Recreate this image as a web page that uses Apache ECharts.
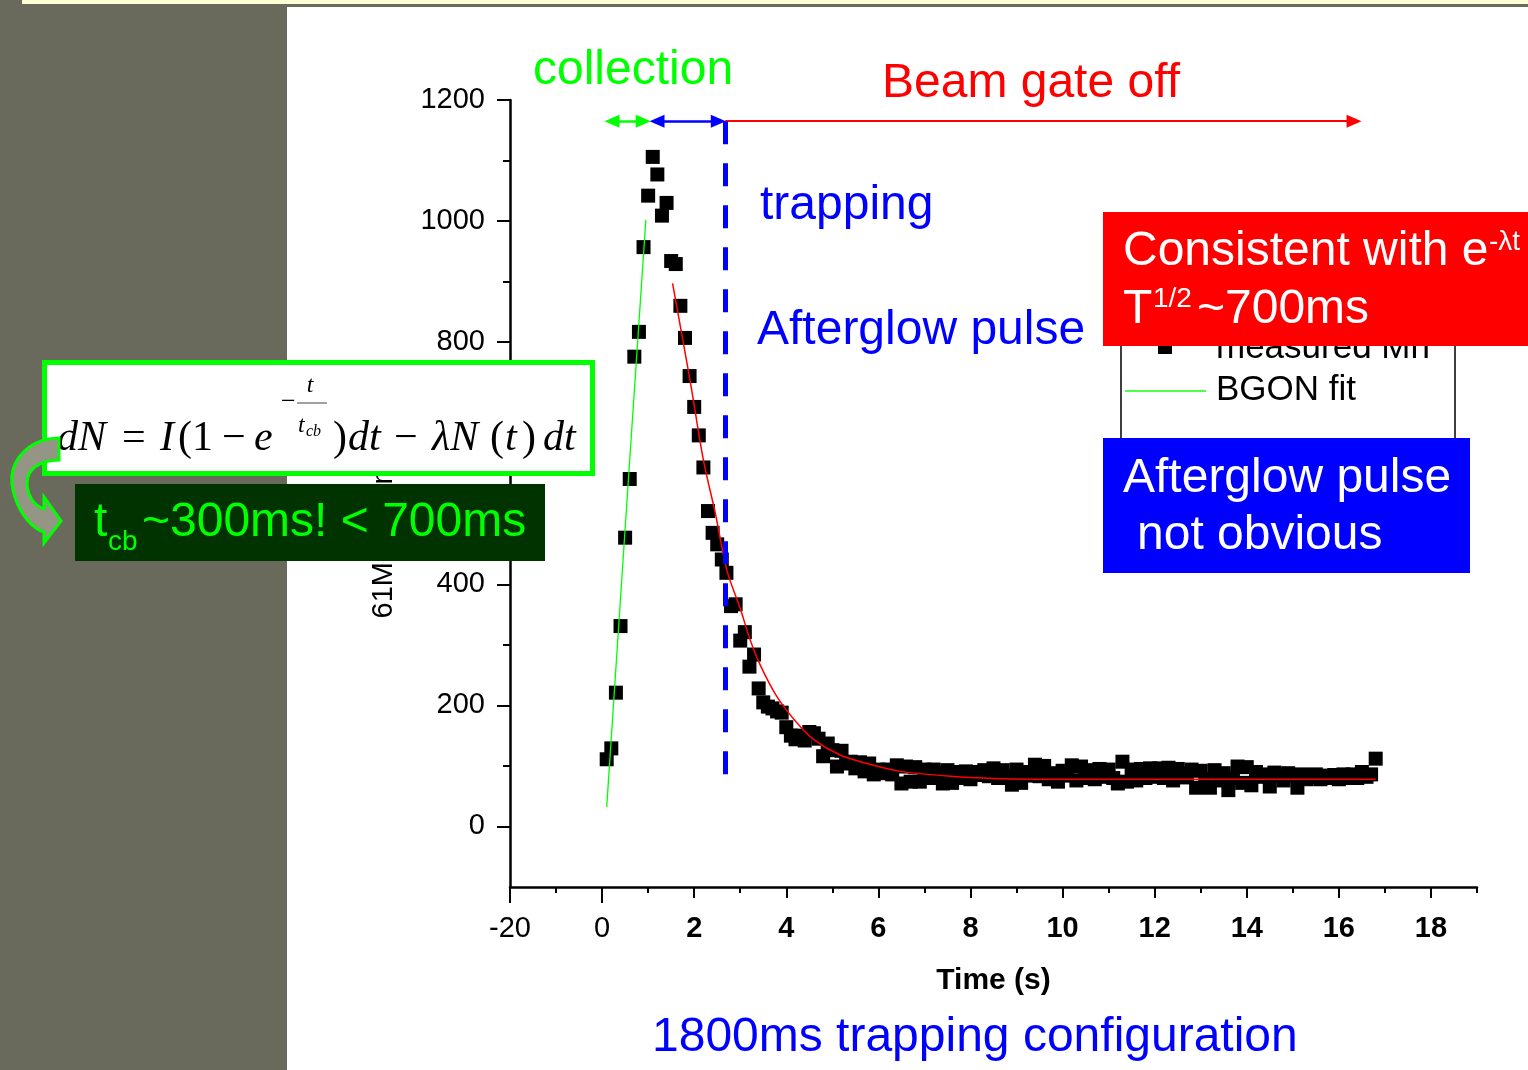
<!DOCTYPE html>
<html><head><meta charset="utf-8">
<script src="https://cdn.jsdelivr.net/npm/echarts@6/dist/echarts.min.js"></script>
<style>html,body{margin:0;padding:0;background:#fff;}#c{width:1528px;height:1070px;}</style>
</head><body><div id="c"></div>
<script>
// ---------------- data ----------------
const measuredTime = [
 0.1,0.2,0.3,0.4,0.5,0.6,0.7,0.8,0.9,1.0,
 1.1,1.2,1.3,1.4,1.5,1.6,1.7,1.8,1.9,2.0,
 2.1,2.2,2.3,2.4,2.5,2.6,2.7,2.8,2.9,3.0,
 3.1,3.2,3.3,3.4,3.5,3.6,3.7,3.8,3.9,4.0,
 4.1,4.2,4.3,4.4,4.5,4.6,4.7,4.8,4.9,5.0,
 5.1,5.2,5.3,5.4,5.5,5.6,5.7,5.8,5.9,6.0,
 6.1,6.2,6.3,6.4,6.5,6.6,6.7,6.8,6.9,7.0,
 7.1,7.2,7.3,7.4,7.5,7.6,7.7,7.8,7.9,8.0,
 8.1,8.2,8.3,8.4,8.5,8.6,8.7,8.8,8.9,9.0,
 9.1,9.2,9.3,9.4,9.5,9.6,9.7,9.8,9.9,10.0,
 10.1,10.2,10.3,10.4,10.5,10.6,10.7,10.8,10.9,11.0,
 11.1,11.2,11.3,11.4,11.5,11.6,11.7,11.8,11.9,12.0,
 12.1,12.2,12.3,12.4,12.5,12.6,12.7,12.8,12.9,13.0,
 13.1,13.2,13.3,13.4,13.5,13.6,13.7,13.8,13.9,14.0,
 14.1,14.2,14.3,14.4,14.5,14.6,14.7,14.8,14.9,15.0,
 15.1,15.2,15.3,15.4,15.5,15.6,15.7,15.8,15.9,16.0,
 16.1,16.2,16.3,16.4,16.5,16.6,16.7,16.8
];
const measuredCounts = [
 111,129,221,331,477,574,776,817,957,1042,
 1106,1077,1009,1030,934,929,860,807,744,693,
 646,593,521,485,466,441,419,364,367,307,
 321,264,284,228,205,198,195,190,188,164,
 150,144,150,142,156,154,145,116,137,126,
 99,125,104,107,96,106,91,104,86,94,
 88,94,86,101,71,99,74,98,74,94,
 80,94,88,71,93,72,90,80,91,78,
 90,85,93,83,96,80,93,83,69,94,
 72,90,84,102,83,100,78,88,74,92,
 84,101,76,99,80,93,78,95,82,94,
 80,71,107,74,94,76,95,80,96,82,
 96,80,97,76,95,88,81,94,64,92,
 78,64,93,76,88,60,80,99,72,98,
 68,90,82,86,66,89,84,76,88,84,
 64,86,78,82,86,78,84,80,85,78,
 86,80,86,80,90,82,86,112
];
const bgonFitTime   = [0.10, 0.57, 0.95];
const bgonFitCounts = [32, 572, 1002];
const decayFitTime   = [1.53, 1.91, 2.20, 2.46, 2.71, 3.00, 3.22, 3.45, 3.80, 4.22, 4.59, 5.17, 5.75, 6.48, 7.57, 8.65, 10.8, 16.8];
const decayFitCounts = [897, 737, 605, 517, 423, 360, 307, 264, 214, 172, 144, 118, 104, 91, 83, 79, 78, 78];

const xLabelValues = [-2,0,2,4,6,8,10,12,14,16,18];
const xTickLabels  = ['-20','0','2','4','6','8','10','12','14','16','18'];
const xMinorTicks  = [-1,1,3,5,7,9,11,13,15,17,19];
const yLabelValues = [0,200,400,600,800,1000,1200];
const yTickLabels  = ['0','200','400','600','800','1000','1200'];
const yMinorTicks  = [100,300,500,700,900,1100];

// phase annotation (time s, counts)
const phaseEdges = [0.065, 1.043, 2.674, 16.48]; // collection start, trapping start, gate off, arrow end
const arrowLevel = 1165;
const dashBottom = 84;

// ---------------- chart ----------------
const FONT = '"Liberation Sans", Arial, sans-serif';
const SERIF = '"Liberation Serif", "Times New Roman", serif';
const pairs = (xs, ys) => xs.map((x, i) => [x, ys[i]]);
const halfHead = 0.15;
const BIG = 48;

const chart = echarts.init(document.getElementById('c'), null, {renderer: 'canvas', width: 1528, height: 1070});

const tickStyle = {color: '#000', width: 2};
const hiddenAxisBase = {
  type: 'value', splitLine: {show: false}, axisLabel: {show: false},
  axisLine: {show: false, onZero: false}
};

function txt(x, y, text, size, color, opts) {
  opts = opts || {};
  return {
    type: 'text', x: x, y: y, z: opts.z || 120, silent: true,
    style: {
      text: text, fill: color,
      font: (opts.italic ? 'italic ' : '') + (opts.bold ? 'bold ' : '') + size + 'px ' + (opts.family || FONT),
      textAlign: opts.align || 'left', textVerticalAlign: 'middle'
    }
  };
}
const mid = (baseline, size, serif) => baseline - (serif ? 0.3375 : 0.3465) * size;

// curved arrow outline (decoration): sample cubic Bezier segments into a polygon
function bez(p0, p1, p2, p3, n) {
  const out = [];
  for (let i = 1; i <= n; i++) {
    const t = i / n, u = 1 - t;
    out.push([u*u*u*p0[0] + 3*u*u*t*p1[0] + 3*u*t*t*p2[0] + t*t*t*p3[0],
              u*u*u*p0[1] + 3*u*u*t*p1[1] + 3*u*t*t*p2[1] + t*t*t*p3[1]]);
  }
  return out;
}
const arrowPts = [[59, 438]]
  .concat(bez([59,438],[30,438],[9,460],[12,484], 10))
  .concat(bez([12,484],[15,508],[30,528],[44,532], 10))
  .concat([[44,543],[61,521],[44,497],[44,509]])
  .concat(bez([44,509],[34,506],[27,495],[27,483], 8))
  .concat(bez([27,483],[27,469],[40,460],[59,460], 8));

const eqPieces = [
  ['dN', 57, true], ['=', 122, false], ['I', 160, true], ['(1', 178, false], ['\u2212', 222, false],
  ['e', 254, true], [')', 333, false], ['dt', 348, true], ['\u2212', 394, false], ['\u03bbN', 432, true],
  ['(', 490, false], ['t', 505, true], [')', 522, false], ['dt', 543, true]
];
const eqBase = 453;

const graphics = [
  // slide background
  {type: 'rect', z: 1, silent: true, shape: {x: 0, y: 0, width: 287, height: 1070}, style: {fill: '#6a6a5c'}},
  {type: 'rect', z: 1, silent: true, shape: {x: 0, y: 4, width: 1528, height: 3}, style: {fill: '#6a6a5c'}},
  {type: 'rect', z: 1, silent: true, shape: {x: 22, y: 0, width: 1506, height: 4}, style: {fill: '#ffffd6'}},
  // phase texts
  txt(533, mid(87, BIG), 'collection', BIG, '#00ff00', {z: 20}),
  txt(882, mid(100, BIG), 'Beam gate off', BIG, '#ff0000', {z: 20}),
  txt(760, mid(222, BIG), 'trapping', BIG, '#0000ff', {z: 20}),
  txt(757, mid(347, BIG), 'Afterglow pulse', BIG, '#0000ff', {z: 20}),
  txt(652, mid(1054, BIG), '1800ms trapping configuration', BIG, '#0000ff', {z: 20}),
  // legend box (partly hidden)
  {type: 'rect', z: 40, silent: true, shape: {x: 1121, y: 290, width: 334, height: 150}, style: {fill: '#ffffff', stroke: '#000', lineWidth: 1.5}},
  {type: 'rect', z: 41, silent: true, shape: {x: 1158, y: 340, width: 14, height: 14}, style: {fill: '#000'}},
  txt(1216, mid(360, 35), 'measured Mn', 35, '#000', {z: 41}),
  {type: 'line', z: 41, silent: true, shape: {x1: 1125, y1: 391, x2: 1206, y2: 391}, style: {stroke: '#4cff4c', lineWidth: 2}},
  txt(1216, mid(402, 35), 'BGON fit', 35, '#000', {z: 41}),
  // red box
  {type: 'rect', z: 60, silent: true, shape: {x: 1103, y: 212, width: 425, height: 134}, style: {fill: '#ff0000'}},
  txt(1123, mid(268, BIG), 'Consistent with e', BIG, '#ffffff', {z: 61}),
  txt(1489, mid(252, 28), '-\u03bbt', 28, '#ffffff', {z: 61}),
  txt(1123, mid(326, BIG), 'T', BIG, '#ffffff', {z: 61}),
  txt(1153, mid(309, 28), '1/2', 28, '#ffffff', {z: 61}),
  txt(1197, mid(326, BIG), '~700ms', BIG, '#ffffff', {z: 61}),
  // blue box
  {type: 'rect', z: 60, silent: true, shape: {x: 1103, y: 438, width: 367, height: 135}, style: {fill: '#0000ff'}},
  txt(1123, mid(495, BIG), 'Afterglow pulse', BIG, '#ffffff', {z: 61}),
  txt(1137, mid(552, BIG), 'not obvious', BIG, '#ffffff', {z: 61}),
  // equation box
  {type: 'rect', z: 100, silent: true, shape: {x: 44.5, y: 362.5, width: 548, height: 111}, style: {fill: '#ffffff', stroke: '#00ff00', lineWidth: 5}},
  txt(281, mid(411, 26, true), '\u2212', 26, '#000', {z: 101, family: SERIF}),
  txt(310, mid(394, 24, true), 't', 24, '#000', {z: 101, family: SERIF, italic: true, align: 'center'}),
  {type: 'line', z: 101, silent: true, shape: {x1: 297, y1: 403, x2: 327, y2: 403}, style: {stroke: '#808080', lineWidth: 1.5}},
  txt(298, mid(434, 24, true), 't', 24, '#000', {z: 101, family: SERIF, italic: true}),
  txt(306, mid(437, 16, true), 'cb', 16, '#000', {z: 101, family: SERIF, italic: true}),
  // t_cb box
  {type: 'rect', z: 100, silent: true, shape: {x: 75, y: 484, width: 470, height: 77}, style: {fill: '#003300'}},
  txt(94, mid(539, BIG), 't', BIG, '#00ff00', {z: 101}),
  txt(108, mid(552, 28), 'cb', 28, '#00ff00', {z: 101}),
  txt(142, mid(539, BIG), '~300ms! < 700ms', BIG, '#00ff00', {z: 101}),
  // curved arrow
  {type: 'polygon', z: 110, silent: true, shape: {points: arrowPts},
   style: {fill: '#959585', stroke: '#00ff00', lineWidth: 3}}
];
eqPieces.forEach(p => graphics.push(txt(p[1], mid(eqBase, 42, true), p[0], 42, '#000', {z: 101, family: SERIF, italic: p[2]})));

const arrowHead = {symbol: 'triangle', symbolSize: [13, 15]};
const option = {
  animation: false,
  backgroundColor: '#ffffff',
  grid: {left: 510, right: 51, top: 100, bottom: 183, containLabel: false},
  xAxis: [
    {type: 'value', min: -2, max: 19, position: 'bottom',
     axisLine: {show: true, onZero: false, lineStyle: {color: '#000', width: 2.5}},
     axisTick: {show: true, length: 11, customValues: [2,4,6,8,10,12,14,16,18], lineStyle: tickStyle},
     axisLabel: {customValues: xLabelValues, margin: 27,
       formatter: function (v) { const i = xLabelValues.indexOf(v); const s = i >= 0 ? xTickLabels[i] : ''; return (v <= 0 ? '{n|' : '{b|') + s + '}'; },
       rich: {n: {fontFamily: FONT, fontSize: 29, color: '#000', fontWeight: 'normal'},
              b: {fontFamily: FONT, fontSize: 29, color: '#000', fontWeight: 'bold'}}},
     splitLine: {show: false},
     name: 'Time (s)', nameLocation: 'middle', nameGap: 79,
     nameTextStyle: {fontFamily: FONT, fontSize: 30, fontWeight: 'bold', color: '#000'}},
    Object.assign({}, hiddenAxisBase, {min: -2, max: 19, position: 'bottom',
     axisTick: {show: true, length: 16, customValues: [-2, 0], lineStyle: tickStyle}}),
    Object.assign({}, hiddenAxisBase, {min: -2, max: 19, position: 'bottom',
     axisTick: {show: true, length: 6, customValues: xMinorTicks, lineStyle: tickStyle}})
  ],
  yAxis: [
    {type: 'value', min: -100, max: 1200, position: 'left',
     axisLine: {show: true, onZero: false, lineStyle: {color: '#000', width: 2.5}},
     axisTick: {show: true, length: 13, customValues: yLabelValues, lineStyle: tickStyle},
     axisLabel: {customValues: yLabelValues, margin: 25, fontFamily: FONT, fontSize: 29, color: '#000',
       formatter: function (v) { const i = yLabelValues.indexOf(v); return i >= 0 ? yTickLabels[i] : ''; }},
     splitLine: {show: false},
     name: '61Mn Counts (arb.)', nameLocation: 'middle', nameGap: 112,
     nameTextStyle: {fontFamily: FONT, fontSize: 29, color: '#000'}},
    Object.assign({}, hiddenAxisBase, {min: -100, max: 1200, position: 'left',
     axisTick: {show: true, length: 7, customValues: yMinorTicks, lineStyle: tickStyle}})
  ],
  series: [
    {name: 'measured Mn', type: 'scatter', symbol: 'rect', symbolSize: 14, silent: true,
     itemStyle: {color: '#000', opacity: 1}, data: pairs(measuredTime, measuredCounts)},
    {name: 'BGON fit', type: 'line', showSymbol: false, silent: true,
     lineStyle: {color: '#00ff00', width: 1.3}, data: pairs(bgonFitTime, bgonFitCounts)},
    {name: 'decay fit', type: 'line', showSymbol: false, silent: true, smooth: 0.3,
     lineStyle: {color: '#ff0000', width: 1.5}, data: pairs(decayFitTime, decayFitCounts),
     markLine: {silent: true, animation: false, label: {show: false},
       data: [
         [Object.assign({coord: [phaseEdges[0] + halfHead, arrowLevel], lineStyle: {color: '#00ff00', width: 2.5, type: 'solid'}}, arrowHead),
          Object.assign({coord: [phaseEdges[1] - halfHead, arrowLevel]}, arrowHead)],
         [Object.assign({coord: [phaseEdges[1] + halfHead, arrowLevel], lineStyle: {color: '#0000ff', width: 2.5, type: 'solid'}}, arrowHead),
          Object.assign({coord: [phaseEdges[2] - halfHead, arrowLevel]}, arrowHead)],
         [{coord: [phaseEdges[2], arrowLevel], symbol: 'none', lineStyle: {color: '#ff0000', width: 2, type: 'solid'}},
          Object.assign({coord: [phaseEdges[3] - halfHead, arrowLevel]}, arrowHead)],
         [{coord: [phaseEdges[2], arrowLevel], symbol: 'none', lineStyle: {color: '#0000ff', width: 5, type: [23, 19]}},
          {coord: [phaseEdges[2], dashBottom], symbol: 'none'}]
       ]}}
  ],
  graphic: {elements: graphics}
};
chart.setOption(option);
</script>
</body></html>
